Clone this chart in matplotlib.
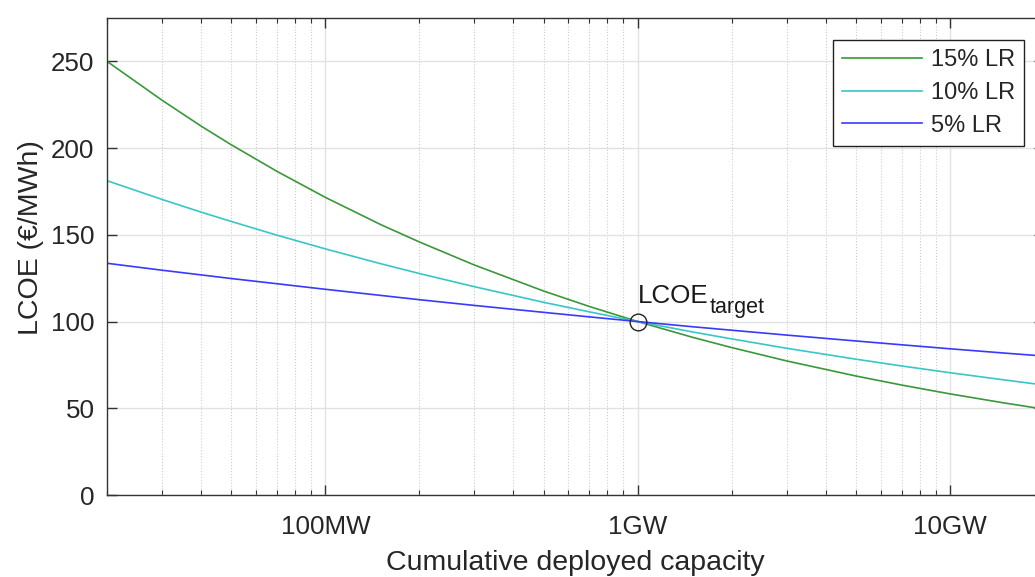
#!/usr/bin/env python3
"""
Experience curves: LCOE vs cumulative deployed capacity for three learning rates
"""
import numpy as np
import matplotlib
matplotlib.use("Agg")
import matplotlib.pyplot as plt
from matplotlib.ticker import FixedLocator, LogLocator, NullFormatter

plt.rcParams['font.family'] = ['Liberation Sans', 'DejaVu Sans']

# cumulative capacity in MW
CAPACITY_MW = [20, 30, 40, 50, 70, 100, 150, 200, 300, 500, 700,
               1000, 1500, 2000, 3000, 5000, 7000, 10000, 15000, 20000]

LCOE_LR15 = [250.0, 227.6, 212.7, 201.9, 186.6, 171.6, 156.0, 145.9, 132.6, 117.6, 108.7,
             100.0, 90.9, 85.0, 77.3, 68.6, 63.4, 58.3, 53.0, 49.5]
LCOE_LR10 = [181.2, 170.4, 163.1, 157.7, 149.8, 141.9, 133.4, 127.7, 120.1, 111.1, 105.6,
             100.0, 94.0, 90.0, 84.6, 78.3, 74.4, 70.5, 66.3, 63.4]
LCOE_LR05 = [133.6, 129.6, 126.9, 124.8, 121.8, 118.6, 115.1, 112.6, 109.3, 105.3, 102.7,
             100.0, 97.0, 95.0, 92.2, 88.8, 86.6, 84.3, 81.8, 80.1]

SERIES = [("15% LR", LCOE_LR15, '#3a983a'),
          ("10% LR", LCOE_LR10, '#38c6c6'),
          ("5% LR",  LCOE_LR05, '#3a3aff')]

TARGET_MW   = 1000
TARGET_LCOE = 100

XTICKS      = [100, 1000, 10000]
XTICKLABELS = ["100MW", "1GW", "10GW"]
YTICKS      = [0, 50, 100, 150, 200, 250]

FS_TICK  = 18.7
FS_LABEL = 20.5
FS_LEG   = 17

fig = plt.figure(figsize=(10.35, 5.77), dpi=100)
ax = fig.add_axes([0.1034, 0.1421, 0.9053, 0.8267])

for label, vals, col in SERIES:
    ax.plot(CAPACITY_MW, vals, '-', color=col, linewidth=1.2, label=label)

ax.plot([TARGET_MW], [TARGET_LCOE], 'o', markersize=12, markerfacecolor='none',
        markeredgecolor='#222222', markeredgewidth=1.0, zorder=5)
t_main = ax.text(TARGET_MW * 1.003, 110.8, "LCOE", fontsize=FS_TICK, color='#1a1a1a',
                 ha='left', va='baseline')
ax.annotate("target", xy=(1, 0), xycoords=t_main, xytext=(1, -4),
            textcoords='offset points', fontsize=15.5, color='#1a1a1a',
            ha='left', va='baseline')

ax.set_xscale('log')
ax.set_xlim(20, 20000)
ax.set_ylim(0, 275)
ax.xaxis.set_major_locator(FixedLocator(XTICKS))
ax.set_xticklabels(XTICKLABELS)
ax.xaxis.set_minor_locator(LogLocator(base=10, subs=np.arange(2, 10)))
ax.xaxis.set_minor_formatter(NullFormatter())
ax.set_yticks(YTICKS)

ax.tick_params(which='major', direction='in', length=7, width=1.0,
               color='#333333', labelsize=FS_TICK, labelcolor='#262626',
               top=True, right=True)
ax.tick_params(which='minor', direction='in', length=3.5, width=0.8,
               color='#333333', top=True, right=True)
ax.tick_params(axis='x', pad=14.5)
ax.tick_params(axis='y', pad=9)

ax.grid(True, which='major', color='#e2e2e2', linewidth=1.0, linestyle='-')
ax.grid(True, which='minor', axis='x', color='#cccccc', linewidth=0.8, linestyle=':')
ax.set_axisbelow(True)

for sp in ax.spines.values():
    sp.set_color('#333333')
    sp.set_linewidth(1.0)

ax.set_xlabel("Cumulative deployed capacity", fontsize=FS_LABEL, color='#262626')
ax.set_ylabel("LCOE (€/MWh)", fontsize=FS_LABEL, color='#262626')
ax.xaxis.set_label_coords(0.5, -0.1435, transform=ax.transAxes)
ax.xaxis.label.set_va('center')
ax.yaxis.set_label_coords(-0.081, 0.54, transform=ax.transAxes)
ax.yaxis.label.set_va('center')

leg = ax.legend(loc='upper right', bbox_to_anchor=(0.979, 0.954), borderaxespad=0,
                fontsize=FS_LEG, fancybox=False, framealpha=1, edgecolor='#222222',
                handlelength=3.4, labelspacing=0.45, borderpad=0.4,
                handletextpad=0.35)
leg.get_frame().set_linewidth(1.0)
for t in leg.get_texts():
    t.set_color('#262626')

fig.savefig("out.png", dpi=100)
